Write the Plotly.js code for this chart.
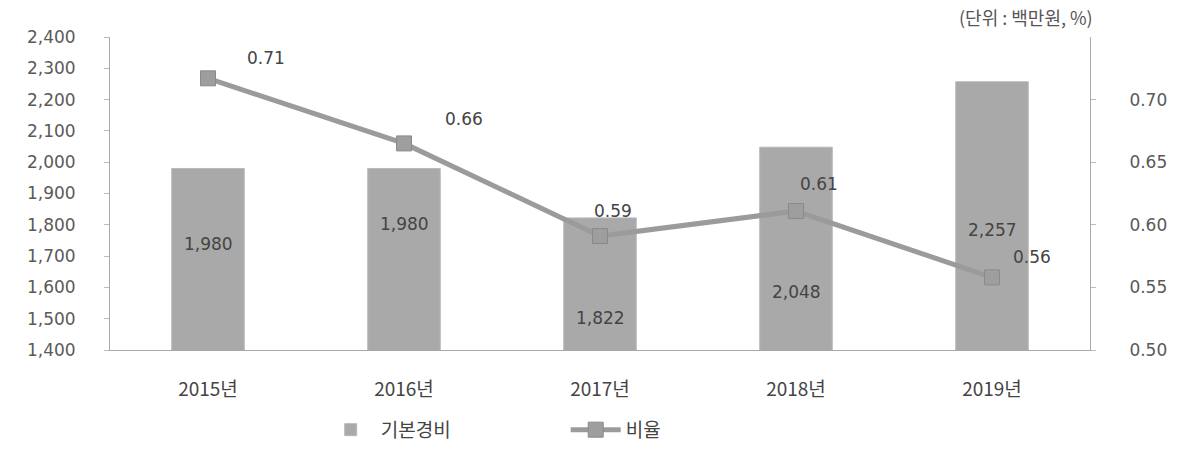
<!DOCTYPE html>
<html>
<head>
<meta charset="utf-8">
<script src="https://cdn.plot.ly/plotly-3.0.1.min.js"></script>
<style>
html,body{margin:0;padding:0;background:#fff;}
#chart{width:1185px;height:449px;}
</style>
</head>
<body>
<div id="chart"></div>
<script>
// ---- data ----
const categories = ['2015년', '2016년', '2017년', '2018년', '2019년'];
const costValues = [1980, 1980, 1822, 2048, 2257];          // 기본경비 (백만원)
const costLabels = ['1,980', '1,980', '1,822', '2,048', '2,257'];
const ratioValues = [0.717, 0.665, 0.591, 0.611, 0.558];    // 비율 (%)
const ratioLabels = ['0.71', '0.66', '0.59', '0.61', '0.56'];
const leftTicks = [1400, 1500, 1600, 1700, 1800, 1900, 2000, 2100, 2200, 2300, 2400];
const rightTicks = [0.50, 0.55, 0.60, 0.65, 0.70];

// label placement (styling, not data)
const costLabelY = [1739, 1803, 1502, 1585, 1783];
const ratioLabelDX = [58, 60, 13, 23, 40];
const ratioLabelDY = [20, 24, 25, 27, 20];

const numFont = 'DejaVu Sans, Verdana, sans-serif';
const tickFont = {family: numFont, size: 17, color: '#5a5a5a'};
const krFont = {family: 'Noto Sans CJK KR, sans-serif', size: 19, color: '#444'};

const bars = {
  type: 'bar',
  name: '기본경비',
  x: categories,
  y: costValues,
  width: 0.37,
  marker: {color: '#a9a9a9', line: {color: '#b8b8b8', width: 1}},
  hoverinfo: 'x+y'
};

const line = {
  type: 'scatter',
  mode: 'lines+markers',
  name: '비율',
  x: categories,
  y: ratioValues,
  yaxis: 'y2',
  line: {color: '#9b9b9b', width: 5},
  marker: {symbol: 'square', size: 15, color: '#9e9e9e', line: {color: '#8a8a8a', width: 1}}
};

const annotations = [];
categories.forEach((c, i) => {
  annotations.push({
    x: c, y: costLabelY[i], xref: 'x', yref: 'y',
    text: costLabels[i], showarrow: false,
    font: {family: numFont, size: 17, color: '#444'}
  });
  annotations.push({
    x: c, y: ratioValues[i], xref: 'x', yref: 'y2',
    text: ratioLabels[i], showarrow: false,
    xshift: ratioLabelDX[i], yshift: ratioLabelDY[i],
    font: {family: numFont, size: 17, color: '#444'}
  });
});
annotations.push({
  xref: 'paper', yref: 'paper', x: 1.005, y: 1.0, yshift: 20,
  xanchor: 'right', yanchor: 'middle',
  text: '(단위 : 백만원, %)', showarrow: false,
  font: {family: 'Noto Sans CJK KR, sans-serif', size: 18, color: '#555'}
});

const layout = {
  width: 1185, height: 449,
  margin: {l: 110, r: 95, t: 37, b: 99, autoexpand: false},
  paper_bgcolor: '#fff', plot_bgcolor: '#fff',
  showlegend: true,
  legend: {
    orientation: 'h', x: 0.215, xanchor: 'left', y: -0.255, yanchor: 'middle',
    font: {family: 'Noto Sans CJK KR, sans-serif', size: 19, color: '#444'},
    traceorder: 'normal', itemwidth: 50, entrywidth: 180, tracegroupgap: 0
  },
  xaxis: {
    type: 'category',
    showgrid: false, zeroline: false,
    showline: true, linecolor: '#aaa', linewidth: 1,
    ticks: '', tickfont: krFont, ticklabelstandoff: 22
  },
  yaxis: {
    range: [1400, 2400], tickvals: leftTicks,
    ticktext: leftTicks.map(v => v.toLocaleString('en-US')),
    showgrid: false, zeroline: false,
    showline: true, linecolor: '#aaa', linewidth: 1,
    ticks: 'outside', ticklen: 5, tickcolor: '#bbb',
    tickfont: tickFont, ticklabelstandoff: 25
  },
  yaxis2: {
    overlaying: 'y', side: 'right',
    range: [0.5, 0.75], tickvals: rightTicks,
    ticktext: rightTicks.map(v => v.toFixed(2)),
    showgrid: false, zeroline: false,
    showline: true, linecolor: '#aaa', linewidth: 1,
    ticks: 'outside', ticklen: 5, tickcolor: '#bbb',
    tickfont: tickFont, ticklabelstandoff: 30
  },
  annotations: annotations,
  bargap: 0.63
};

Plotly.newPlot('chart', [bars, line], layout, {displayModeBar: false, staticPlot: true});
</script>
</body>
</html>
